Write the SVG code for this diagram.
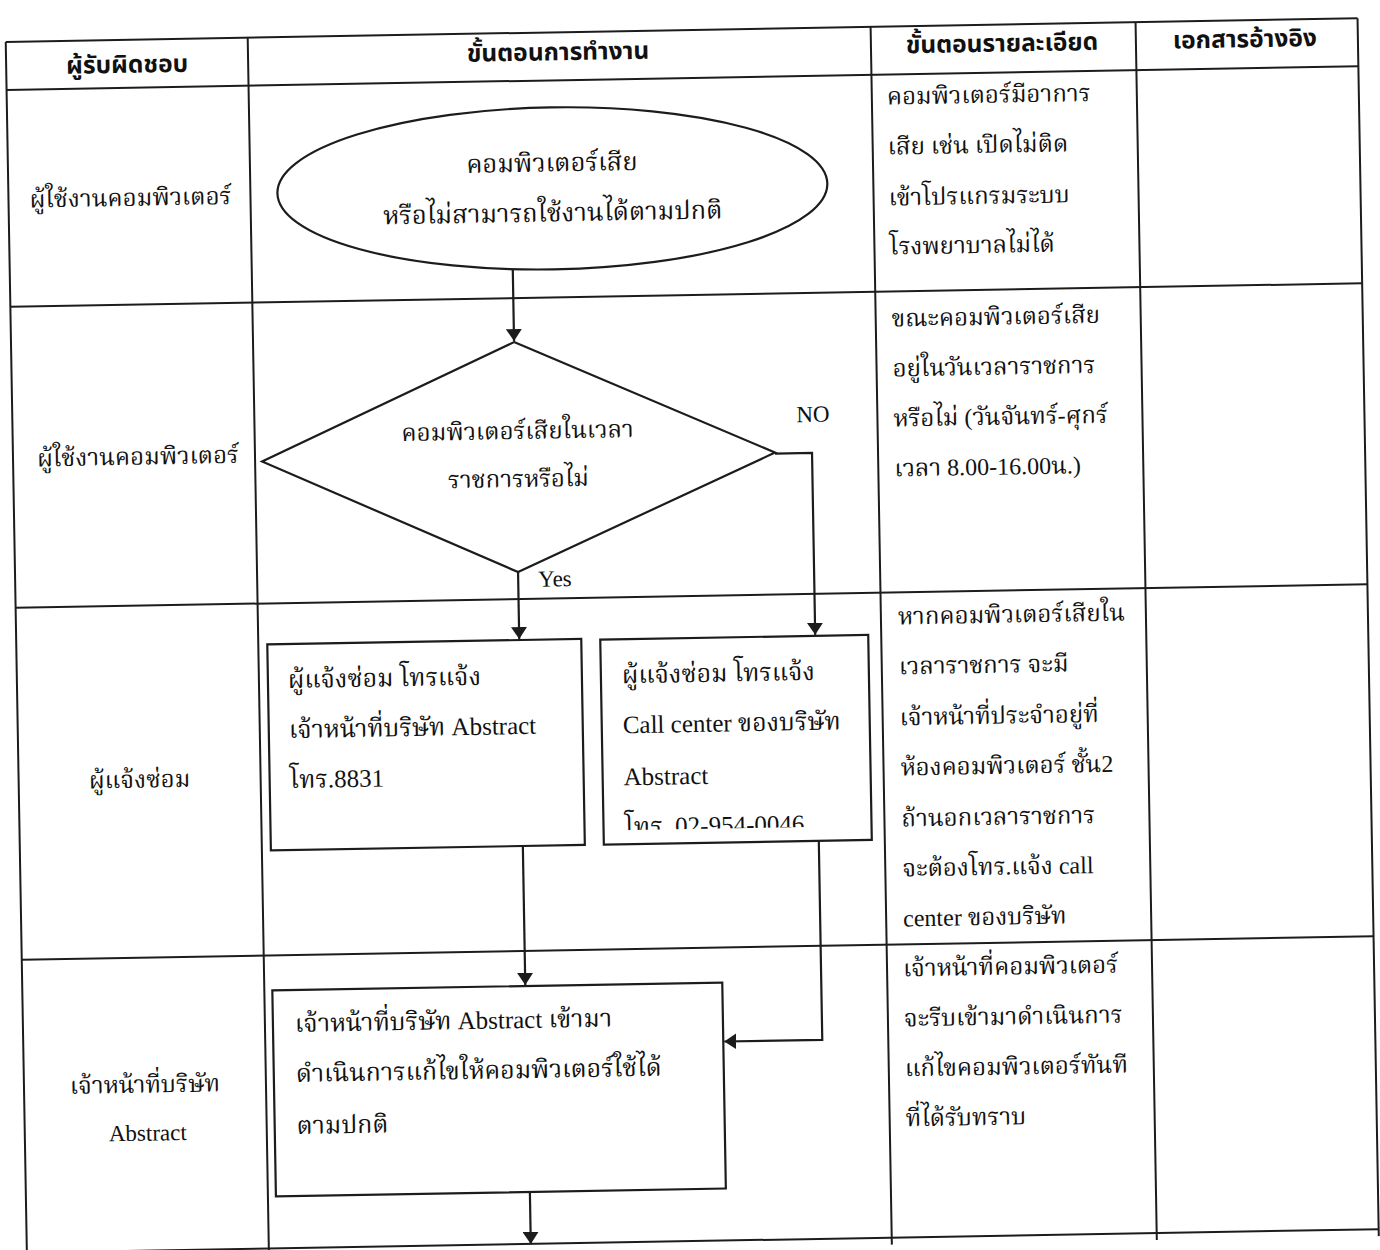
<svg xmlns="http://www.w3.org/2000/svg" width="1380" height="1250" viewBox="0 0 1380 1250">
<defs>
<style>
.grid{stroke:#1c1c1c;stroke-width:2;fill:none}
.node{fill:#fff;stroke:#1c1c1c;stroke-width:2.2}
.conn{stroke:#1c1c1c;stroke-width:2.2;fill:none}
.hdr{font-family:"Liberation Sans","Noto Sans Thai",sans-serif;font-weight:bold;font-size:24.5px;text-anchor:middle;fill:#111}
.t{font-family:"Liberation Serif","Noto Serif Thai",serif;font-size:25px;fill:#111}
.d{font-size:24px}
.s{font-size:24px}
.e{font-size:25.5px}
.c{text-anchor:middle}
.lbl{font-family:"Liberation Serif",serif;font-size:23px;fill:#111}
</style>
<marker id="ah" viewBox="0 0 12 16" refX="12" refY="8" markerWidth="12" markerHeight="16" markerUnits="userSpaceOnUse" orient="auto">
<path d="M0,0 L12,8 L0,16 Z" fill="#1c1c1c"/>
</marker>
<clipPath id="clipB2"><rect x="589" y="650" width="268" height="191"/></clipPath>
</defs>
<rect x="0" y="0" width="1380" height="1250" fill="#fff"/>
<g transform="rotate(-1)">
<g id="table">
<line class="grid" x1="5" y1="42" x2="1357" y2="42"/>
<line class="grid" x1="5" y1="90" x2="1357" y2="90"/>
<line class="grid" x1="5" y1="307" x2="1357" y2="307"/>
<line class="grid" x1="5" y1="608" x2="1357" y2="608"/>
<line class="grid" x1="5" y1="960" x2="1357" y2="960"/>
<line class="grid" x1="5" y1="1253" x2="1357" y2="1253"/>
<line class="grid" x1="5" y1="42" x2="5" y2="1260"/>
<line class="grid" x1="247" y1="42" x2="247" y2="1260"/>
<line class="grid" x1="870" y1="42" x2="870" y2="1260"/>
<line class="grid" x1="1135" y1="42" x2="1135" y2="1260"/>
<line class="grid" x1="1357" y1="42" x2="1357" y2="1260"/>
</g>
<g id="headers">
<text class="hdr" x="126" y="75">ผู้รับผิดชอบ</text>
<text class="hdr" x="557" y="70">ขั้นตอนการทำงาน</text>
<text class="hdr" x="1001" y="69">ขั้นตอนรายละเอียด</text>
<text class="hdr" x="1244" y="69">เอกสารอ้างอิง</text>
</g>
<g id="responsible">
<text class="t s c" x="127" y="208">ผู้ใช้งานคอมพิวเตอร์</text>
<text class="t s c" x="130" y="467">ผู้ใช้งานคอมพิวเตอร์</text>
<text class="t s c" x="126" y="790">ผู้แจ้งซ่อม</text>
<text class="t s c" x="126" y="1095">เจ้าหน้าที่บริษัท</text>
<text class="lbl" x="128" y="1143" text-anchor="middle">Abstract</text>
</g>
<g id="connectors">
<line class="conn" x1="508" y1="279" x2="508" y2="350" marker-end="url(#ah)"/>
<polyline class="conn" points="767,467 804,467 804,649" marker-end="url(#ah)"/>
<line class="conn" x1="508" y1="581" x2="508" y2="648" marker-end="url(#ah)"/>
<line class="conn" x1="508" y1="856" x2="508" y2="994" marker-end="url(#ah)"/>
<polyline class="conn" points="804,856 804,1054 706,1054" marker-end="url(#ah)"/>
<line class="conn" x1="509" y1="1201" x2="509" y2="1253" marker-end="url(#ah)"/>
<text class="lbl" x="789" y="436">NO</text>
<text class="lbl" x="528" y="596">Yes</text>
</g>
<g id="n1">
<ellipse class="node" cx="549" cy="198" rx="275" ry="81"/>
<text class="t e c" x="549" y="181">คอมพิวเตอร์เสีย</text>
<text class="t e c" x="549" y="231">หรือไม่สามารถใช้งานได้ตามปกติ</text>
</g>
<g id="n2">
<polygon class="node" points="508,351 767,466 508,581 254,466"/>
<text class="t s c" x="510" y="448">คอมพิวเตอร์เสียในเวลา</text>
<text class="t s c" x="510" y="496">ราชการหรือไม่</text>
</g>
<g id="n3">
<rect class="node" x="256" y="649" width="314" height="206"/>
<text class="t" x="276" y="693">ผู้แจ้งซ่อม โทรแจ้ง</text>
<text class="t" x="276" y="743">เจ้าหน้าที่บริษัท Abstract</text>
<text class="t" x="276" y="793">โทร.8831</text>
</g>
<g id="n4">
<rect class="node" x="589" y="650" width="268" height="205"/>
<g clip-path="url(#clipB2)">
<text class="t" x="610" y="694">ผู้แจ้งซ่อม โทรแจ้ง</text>
<text class="t" x="610" y="744">Call center ของบริษัท</text>
<text class="t" x="610" y="796">Abstract</text>
<text class="t" x="610" y="846">โทร. 02-954-0046</text>
</g>
</g>
<g id="n5">
<rect class="node" x="255" y="995" width="450" height="206"/>
<text class="t" x="277" y="1037">เจ้าหน้าที่บริษัท Abstract เข้ามา</text>
<text class="t" x="277" y="1087">ดำเนินการแก้ไขให้คอมพิวเตอร์ใช้ได้</text>
<text class="t" x="277" y="1139">ตามปกติ</text>
</g>
<g id="details">
<text class="t d" x="885" y="120">คอมพิวเตอร์มีอาการ</text>
<text class="t d" x="885" y="170">เสีย เช่น เปิดไม่ติด</text>
<text class="t d" x="885" y="221">เข้าโปรแกรมระบบ</text>
<text class="t d" x="885" y="270">โรงพยาบาลไม่ได้</text>
<text class="t d" x="886" y="342">ขณะคอมพิวเตอร์เสีย</text>
<text class="t d" x="886" y="392">อยู่ในวันเวลาราชการ</text>
<text class="t d" x="886" y="442">หรือไม่ (วันจันทร์-ศุกร์</text>
<text class="t d" x="886" y="492">เวลา 8.00-16.00น.)</text>
<text class="t d" x="887" y="640">หากคอมพิวเตอร์เสียใน</text>
<text class="t d" x="887" y="690">เวลาราชการ จะมี</text>
<text class="t d" x="887" y="741">เจ้าหน้าที่ประจำอยู่ที่</text>
<text class="t d" x="887" y="791">ห้องคอมพิวเตอร์ ชั้น2</text>
<text class="t d" x="887" y="842">ถ้านอกเวลาราชการ</text>
<text class="t d" x="887" y="892">จะต้องโทร.แจ้ง call</text>
<text class="t d" x="887" y="942">center ของบริษัท</text>
<text class="t d" x="886" y="992">เจ้าหน้าที่คอมพิวเตอร์</text>
<text class="t d" x="886" y="1042">จะรีบเข้ามาดำเนินการ</text>
<text class="t d" x="886" y="1092">แก้ไขคอมพิวเตอร์ทันที</text>
<text class="t d" x="886" y="1142">ที่ได้รับทราบ</text>
</g>
</g>
</svg>
